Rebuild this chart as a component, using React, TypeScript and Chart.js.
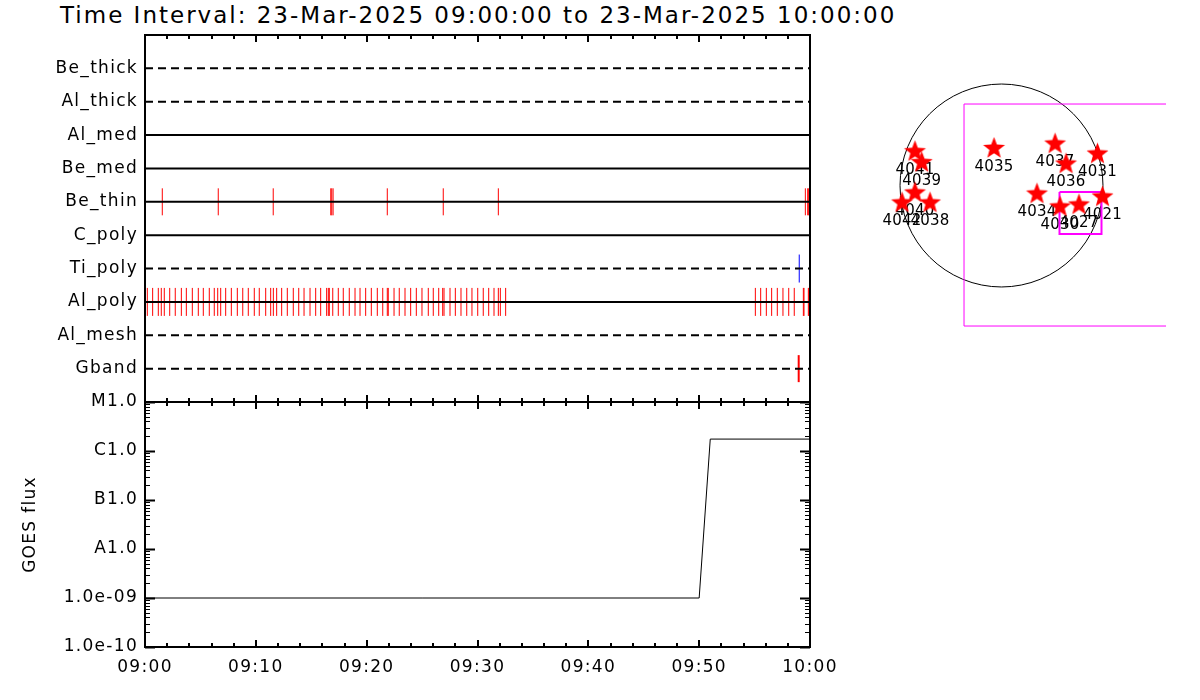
import React, { useEffect, useRef } from 'react';
import { Chart, registerables } from 'chart.js';
Chart.register(...registerables);

const FONT = 'DejaVu Sans';

// ---------------- data ----------------
const titleText = 'Time Interval: 23-Mar-2025 09:00:00 to 23-Mar-2025 10:00:00';

// rows from bottom (value 1) to top (value 10)
const rowNames = ['Gband', 'Al_mesh', 'Al_poly', 'Ti_poly', 'C_poly', 'Be_thin', 'Be_med', 'Al_med', 'Al_thick', 'Be_thick'];
const rowDashed = [true, true, false, true, false, false, false, false, true, true];

// event times, minutes after 09:00
const beThinTimes = [1.56, 6.61, 11.57, 16.76, 16.85, 16.97, 21.86, 26.91, 31.88, 59.58, 59.79, 59.88];
const alPolyTimes = [
  0.21, 0.69, 1.2, 1.47, 1.74, 2.23, 2.73, 3.28, 3.73, 4.27, 4.81, 5.26, 5.8, 6.25, 6.56, 6.83, 7.28,
  7.79, 8.33, 8.82, 9.32, 9.86, 10.31, 10.89, 11.34, 11.58, 11.88, 12.33, 12.84, 13.38, 13.87, 14.35,
  14.89, 15.4, 15.85, 16.39, 16.54, 16.63, 16.94, 17.44, 17.89, 18.43, 18.95, 19.4, 19.91, 20.42,
  20.96, 21.45, 21.86, 21.95, 22.47, 22.94, 23.46, 23.97, 24.48, 24.99, 25.56, 26.01, 26.5, 26.86,
  26.98, 27.52, 28.0, 28.51, 29.03, 29.5, 30.02, 30.52, 31.01, 31.49, 31.88, 32.06, 32.54,
  55.07, 55.55, 56.06, 56.54, 57.05, 57.56, 58.08, 58.58, 59.4, 59.46, 59.85, 59.91,
];
const tiPolyTimes = [59.03];
const gbandTimes = [58.98];

// GOES flux
const goesTimes = [0, 50.0, 51.0, 60];
const goesFlux = [1e-9, 1e-9, 1.75e-6, 1.75e-6];

const timeTickValues = [0, 10, 20, 30, 40, 50, 60];
const timeTickLabels = ['09:00', '09:10', '09:20', '09:30', '09:40', '09:50', '10:00'];
const fluxTickValues = [1e-10, 1e-9, 1e-8, 1e-7, 1e-6, 1e-5];
const fluxTickLabels = ['1.0e-10', '1.0e-09', 'A1.0', 'B1.0', 'C1.0', 'M1.0'];

// solar disk (arcsec)
const solarRadius = 964;
const arNumbers = ['4035', '4037', '4036', '4031', '4034', '4021', '4030', '4027', '4041', '4039', '4040', '4042', '4038'];
const arX = [-71, 509, 613, 912, 337, 960, 556, 736, -822, -758, -822, -945, -679];
const arY = [352, 394, 204, 299, -81, -109, -204, -185, 321, 217, -71, -166, -166];
const fovBigX = [-356, 1800, 1800, -356, -356];
const fovBigY = [774, 774, -1335, -1335, 774];
const fovSmallX = [551, 950, 950, 551, 551];
const fovSmallY = [-62, -62, -461, -461, -62];

// ---------------- helpers ----------------
const spacing = (px: number) => ({
  id: 'spacing',
  beforeDraw(chart: any) {
    chart.ctx.letterSpacing = px + 'px';
  },
});

const noPad = (s: any) => {
  s.paddingTop = 0;
  s.paddingBottom = 0;
  s.paddingLeft = 0;
  s.paddingRight = 0;
};

const framePlugin = (withLog: boolean) => ({
  id: 'frame',
  afterDatasetsDraw(chart: any) {
    const { ctx, chartArea: a, scales } = chart;
    const xs = scales.x;
    ctx.save();
    ctx.strokeStyle = '#000';
    ctx.lineWidth = 2;
    ctx.strokeRect(a.left, a.top, a.right - a.left, a.bottom - a.top);
    for (let t = 0; t <= 60; t += 2) {
      const px = Math.round(xs.getPixelForValue(t));
      const len = t % 10 === 0 ? 7 : 4;
      ctx.beginPath();
      ctx.moveTo(px, a.top);
      ctx.lineTo(px, a.top + len);
      ctx.moveTo(px, a.bottom);
      ctx.lineTo(px, a.bottom - len);
      ctx.stroke();
    }
    if (withLog) {
      const ys = scales.y;
      for (let e = -10; e <= -5; e++) {
        for (let m = 1; m <= 9; m++) {
          if (e === -5 && m > 1) break;
          const v = m * Math.pow(10, e);
          const py = Math.round(ys.getPixelForValue(v)) + 0.5;
          const major = m === 1;
          const len = major ? 10 : 5;
          ctx.lineWidth = major ? 2 : 1;
          ctx.beginPath();
          ctx.moveTo(a.left, py);
          ctx.lineTo(a.left + len, py);
          ctx.moveTo(a.right, py);
          ctx.lineTo(a.right - len, py);
          ctx.stroke();
        }
      }
    }
    ctx.restore();
  },
});

function makeStar(R: number, color: string): HTMLCanvasElement {
  const size = Math.ceil(R * 2 + 2);
  const c = document.createElement('canvas');
  c.width = size;
  c.height = size;
  const g = c.getContext('2d')!;
  const cx = size / 2;
  const cy = size / 2;
  const r = R * 0.42;
  g.beginPath();
  for (let i = 0; i < 10; i++) {
    const ang = -Math.PI / 2 + (i * Math.PI) / 5;
    const rr = i % 2 === 0 ? R : r;
    const x = cx + rr * Math.cos(ang);
    const y = cy + rr * Math.sin(ang);
    if (i === 0) g.moveTo(x, y);
    else g.lineTo(x, y);
  }
  g.closePath();
  g.fillStyle = color;
  g.fill();
  return c;
}

const rowOf = (name: string) => rowNames.indexOf(name) + 1;

export default function App() {
  const c1 = useRef<HTMLCanvasElement>(null);
  const c2 = useRef<HTMLCanvasElement>(null);
  const c3 = useRef<HTMLCanvasElement>(null);

  useEffect(() => {
    const charts: Chart[] = [];
    const font = { family: FONT, size: 17 };

    // ---- top panel: detector rows ----
    const rowDatasets = rowNames.map((name, i) => ({
      type: 'line' as const,
      label: name,
      data: [{ x: 0, y: i + 1 }, { x: 60, y: i + 1 }],
      borderColor: '#000',
      borderWidth: 2,
      borderDash: rowDashed[i] ? [8, 5] : [],
      pointRadius: 0,
      showLine: true,
    }));
    const tickSet = (label: string, times: number[], row: number, color: string, width: number, r: number) => ({
      type: 'scatter' as const,
      label,
      data: times.map((t) => ({ x: t, y: row })),
      pointStyle: 'line',
      rotation: 90,
      pointRadius: r,
      pointHoverRadius: r,
      pointBorderColor: color,
      pointBackgroundColor: color,
      pointBorderWidth: width,
      borderColor: color,
      borderWidth: width,
      showLine: false,
    });
    charts.push(
      new Chart(c1.current!, {
        type: 'scatter',
        data: {
          datasets: [
            ...rowDatasets,
            tickSet('Be_thin events', beThinTimes, rowOf('Be_thin'), '#ff0000', 1, 13.5),
            tickSet('Al_poly events', alPolyTimes, rowOf('Al_poly'), '#ff0000', 1, 14),
            tickSet('Ti_poly events', tiPolyTimes, rowOf('Ti_poly'), '#0000ff', 1, 14),
            tickSet('Gband events', gbandTimes, rowOf('Gband'), '#ff0000', 2, 13.5),
          ] as any,
        },
        options: {
          responsive: false,
          animation: false,
          events: [],
          layout: { autoPadding: false, padding: { left: 0, top: 35, right: 20, bottom: 8 } },
          plugins: { legend: { display: false }, tooltip: { enabled: false } },
          scales: {
            x: { type: 'linear', min: 0, max: 60, display: false },
            y: {
              type: 'linear',
              min: 0,
              max: 11,
              afterFit: (s: any) => {
                s.width = 145;
                noPad(s);
              },
              afterBuildTicks: (s: any) => {
                s.ticks = rowNames.map((_, i) => ({ value: i + 1 }));
              },
              ticks: {
                callback: (_v: any, i: number) => rowNames[i],
                font,
                color: '#000',
                padding: 7,
                autoSkip: false,
              },
              grid: { display: false, drawTicks: false },
              border: { display: false },
            },
          },
        } as any,
        plugins: [spacing(1.3), framePlugin(false)],
      })
    );

    // ---- bottom panel: GOES flux ----
    charts.push(
      new Chart(c2.current!, {
        type: 'line',
        data: {
          datasets: [
            {
              label: 'GOES flux',
              data: goesTimes.map((t, i) => ({ x: t, y: goesFlux[i] })),
              borderColor: '#000',
              borderWidth: 1,
              pointRadius: 0,
              tension: 0,
            },
          ],
        },
        options: {
          responsive: false,
          animation: false,
          events: [],
          layout: { autoPadding: false, padding: { left: 0, top: 12, right: 50, bottom: 0 } },
          plugins: { legend: { display: false }, tooltip: { enabled: false } },
          scales: {
            x: {
              type: 'linear',
              min: 0,
              max: 60,
              afterFit: (s: any) => {
                s.height = 53;
                noPad(s);
              },
              afterBuildTicks: (s: any) => {
                s.ticks = timeTickValues.map((v) => ({ value: v }));
              },
              ticks: {
                callback: (_v: any, i: number) => timeTickLabels[i],
                font,
                color: '#000',
                padding: 10,
                autoSkip: false,
                maxRotation: 0,
                minRotation: 0,
              },
              grid: { display: false, drawTicks: false },
              border: { display: false },
            },
            y: {
              type: 'logarithmic',
              min: 1e-10,
              max: 1e-5,
              afterFit: (s: any) => {
                s.width = 145;
                noPad(s);
              },
              afterBuildTicks: (s: any) => {
                s.ticks = fluxTickValues.map((v) => ({ value: v }));
              },
              ticks: {
                callback: (_v: any, i: number) => fluxTickLabels[i],
                font,
                color: '#000',
                padding: 7,
                autoSkip: false,
              },
              title: {
                display: true,
                text: 'GOES flux',
                font,
                color: '#000',
                padding: { top: 20, bottom: 0 },
              },
              grid: { display: false, drawTicks: false },
              border: { display: false },
            },
          },
        } as any,
        plugins: [spacing(1.3), framePlugin(true)],
      })
    );

    // ---- solar disk ----
    const star = makeStar(11.5, '#ff0000');
    const diskPlugin = {
      id: 'disk',
      beforeDatasetsDraw(chart: any) {
        const { ctx, scales } = chart;
        const xs = scales.x;
        const ys = scales.y;
        const cx = xs.getPixelForValue(0);
        const cy = ys.getPixelForValue(0);
        const r = xs.getPixelForValue(solarRadius) - cx;
        ctx.save();
        ctx.strokeStyle = '#000';
        ctx.lineWidth = 1;
        ctx.beginPath();
        ctx.arc(cx, cy, r, 0, Math.PI * 2);
        ctx.stroke();
        ctx.font = `15px ${FONT}`;
        ctx.fillStyle = '#000';
        ctx.textAlign = 'center';
        ctx.textBaseline = 'middle';
        arNumbers.forEach((lab, i) => {
          ctx.fillText(lab, xs.getPixelForValue(arX[i]), ys.getPixelForValue(arY[i]) + 18.5);
        });
        ctx.restore();
      },
    };
    charts.push(
      new Chart(c3.current!, {
        type: 'scatter',
        data: {
          datasets: [
            {
              label: 'Active regions',
              data: arX.map((x, i) => ({ x, y: arY[i] })),
              pointStyle: star as any,
              pointRadius: 11,
              pointHoverRadius: 11,
              showLine: false,
            },
            {
              label: 'FOV small',
              data: fovSmallX.map((x, i) => ({ x, y: fovSmallY[i] })),
              showLine: true,
              borderColor: '#ff00ff',
              borderWidth: 2,
              pointRadius: 0,
            },
            {
              label: 'FOV big',
              data: fovBigX.map((x, i) => ({ x, y: fovBigY[i] })),
              showLine: true,
              borderColor: '#ff00ff',
              borderWidth: 1,
              pointRadius: 0,
            },
          ] as any,
        },
        options: {
          responsive: false,
          animation: false,
          events: [],
          layout: { autoPadding: false, padding: { left: 10, top: 30, right: 34, bottom: 60 } },
          plugins: { legend: { display: false }, tooltip: { enabled: false } },
          scales: {
            x: { type: 'linear', min: -1344.25, max: 1562.75, display: false },
            y: { type: 'linear', min: -1467.75, max: 1477.25, display: false },
          },
        } as any,
        plugins: [spacing(0.2), diskPlugin],
      })
    );

    return () => charts.forEach((c) => c.destroy());
  }, []);

  return (
    <div
      style={{
        position: 'fixed',
        left: 0,
        top: 0,
        width: 1200,
        height: 700,
        background: '#fff',
        overflow: 'hidden',
      }}
    >
      <div
        style={{
          position: 'absolute',
          left: 60,
          top: 2,
          fontFamily: FONT,
          fontSize: 23,
          lineHeight: '27px',
          letterSpacing: '2px',
          whiteSpace: 'nowrap',
          color: '#000',
        }}
      >
        {titleText}
      </div>
      <canvas ref={c1} width={830} height={410} style={{ position: 'absolute', left: 0, top: 0 }} />
      <canvas ref={c2} width={860} height={310} style={{ position: 'absolute', left: 0, top: 390 }} />
      <canvas ref={c3} width={350} height={400} style={{ position: 'absolute', left: 850, top: 0 }} />
    </div>
  );
}
